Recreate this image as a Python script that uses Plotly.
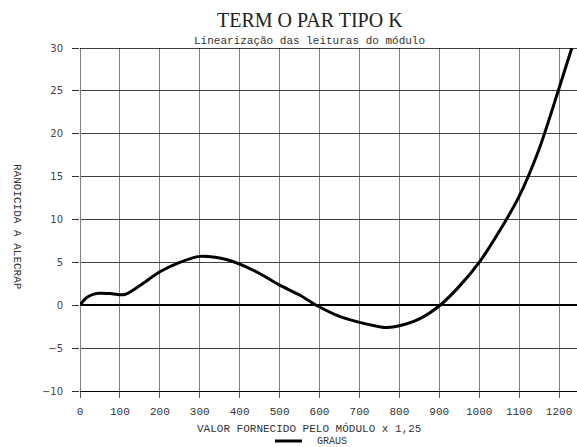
import plotly.graph_objects as go

# Data
x_vals = [0, 10, 20, 35, 50, 80, 112, 150, 200, 250, 300, 350, 400, 450, 500, 550,
          592, 650, 700, 750, 770, 800, 850, 902, 950, 1000, 1050, 1100, 1150, 1200, 1232]
y_vals = [0, 0.6, 1.0, 1.3, 1.4, 1.35, 1.25, 2.3, 3.9, 5.0, 5.7, 5.5, 4.8, 3.7, 2.35, 1.2,
          0.0, -1.3, -2.0, -2.5, -2.6, -2.4, -1.6, 0.0, 2.2, 5.0, 8.6, 12.7, 18.2, 25.3, 30.0]
x_ticks = [0, 100, 200, 300, 400, 500, 600, 700, 800, 900, 1000, 1100, 1200]
y_ticks = [-10, -5, 0, 5, 10, 15, 20, 25, 30]

title_text = "TERM O PAR TIPO K"
subtitle_text = "Linearização das leituras do módulo"
x_title = "VALOR FORNECIDO PELO MÓDULO x 1,25"
y_title = "RANOICIDA A ALECRAP"
series_name = "GRAUS"

W, H = 577, 447
L, R, T, B = 80, 577, 48, 391


def px(xp):
    return (xp - L) / (R - L)


def py(yp):
    return (B - yp) / (B - T)


mono = "Liberation Mono, Courier New, monospace"

fig = go.Figure()
fig.add_trace(go.Scatter(
    x=x_vals, y=y_vals, mode="lines", name=series_name,
    line=dict(color="black", width=3, shape="spline", smoothing=0.8),
    showlegend=False, hoverinfo="skip",
))

fig.update_layout(
    width=W, height=H,
    margin=dict(l=L, r=W - R, t=T, b=H - B, pad=0, autoexpand=False),
    paper_bgcolor="white", plot_bgcolor="white",
    showlegend=False,
    xaxis=dict(
        range=[0, 1245], tickvals=x_ticks, ticktext=[str(v) for v in x_ticks],
        automargin=False,
        showgrid=True, gridcolor="#808080", gridwidth=1,
        zeroline=True, zerolinecolor="#808080", zerolinewidth=1,
        showline=True, linecolor="black", linewidth=1,
        ticks="outside", ticklen=6, tickcolor="#555",
        tickfont=dict(family=mono, size=11, color="#333"),
        ticklabelstandoff=4,
    ),
    yaxis=dict(
        range=[-10, 30], tickvals=y_ticks, automargin=False,
        ticktext=["\u221210" if v == -10 else ("\u22125" if v == -5 else str(v)) for v in y_ticks],
        showgrid=True, gridcolor="#404040", gridwidth=1,
        zeroline=True, zerolinecolor="black", zerolinewidth=2,
        showline=False,
        ticks="outside", ticklen=7, tickcolor="#333",
        tickfont=dict(family="DejaVu Sans, sans-serif", size=10, color="#444"),
        ticklabelstandoff=7,
    ),
    shapes=[
        dict(type="line", xref="paper", yref="y", x0=0, x1=1, y0=30, y1=30,
             line=dict(color="black", width=1.5)),
        # legend sample line
        dict(type="line", xref="paper", yref="paper", x0=px(275), x1=px(302),
             y0=py(441), y1=py(441), line=dict(color="black", width=3)),
    ],
    annotations=[
        dict(text=title_text, xref="paper", yref="paper", x=px(310), y=py(20),
             showarrow=False, xanchor="center", yanchor="middle",
             font=dict(family="Liberation Serif, Times New Roman, serif", size=20, color="#222")),
        dict(text=subtitle_text, xref="paper", yref="paper", x=px(309), y=py(41),
             showarrow=False, xanchor="center", yanchor="middle",
             font=dict(family=mono, size=11, color="#333")),
        dict(text=x_title, xref="paper", yref="paper", x=px(309), y=py(428),
             showarrow=False, xanchor="center", yanchor="middle",
             font=dict(family=mono, size=11, color="#333")),
        dict(text=y_title, xref="paper", yref="paper", x=px(17), y=py(227),
             showarrow=False, xanchor="center", yanchor="middle", textangle=90,
             font=dict(family=mono, size=11, color="#333")),
        dict(text=series_name, xref="paper", yref="paper", x=px(315), y=py(441),
             showarrow=False, xanchor="left", yanchor="middle",
             font=dict(family=mono, size=10, color="#333")),
    ],
)

fig.write_html("out.html", config={"displayModeBar": False},
               post_script="document.body.style.margin='0';document.body.style.overflow='hidden';")
